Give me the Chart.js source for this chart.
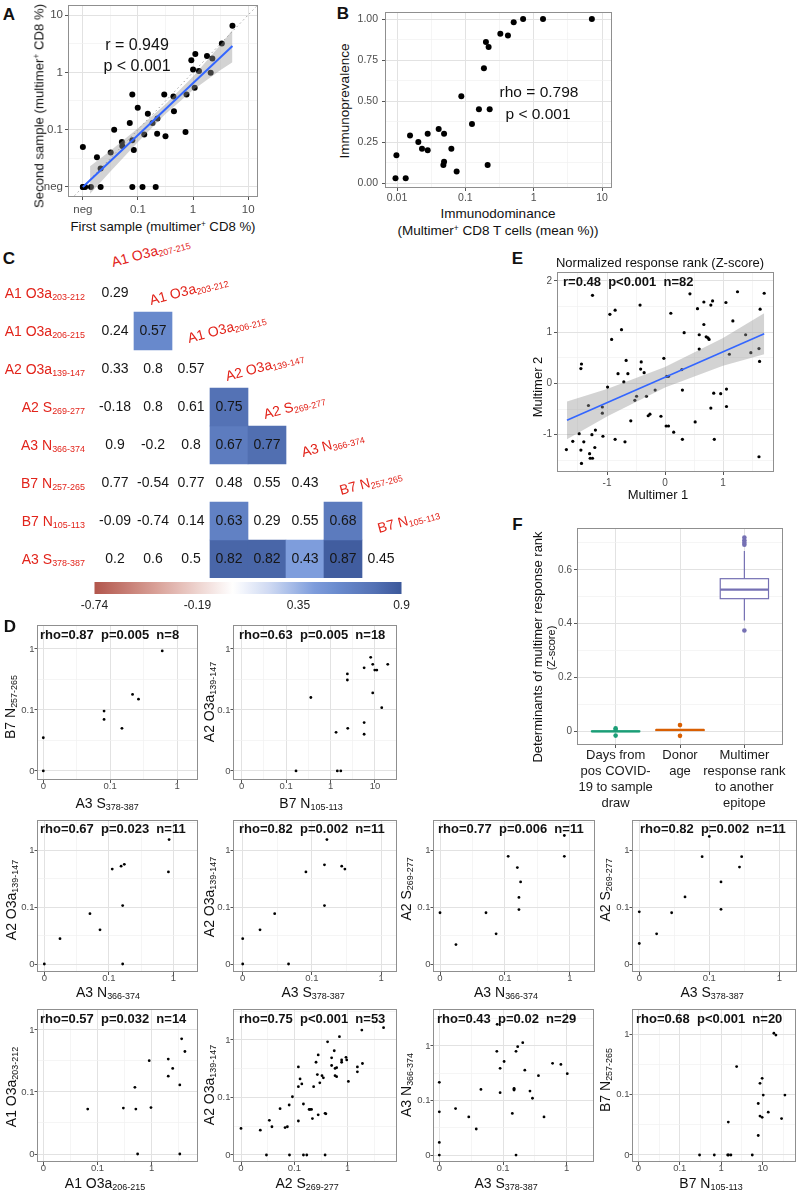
<!DOCTYPE html>
<html><head><meta charset="utf-8"><title>Multimer figure</title>
<script src="https://cdn.jsdelivr.net/npm/chart.js@4.4.1/dist/chart.umd.min.js"></script>
<style>
html,body{margin:0;padding:0;background:#fff;}
#page{position:relative;width:799px;height:1190px;overflow:hidden;font-family:'Liberation Sans',Arial,Helvetica,sans-serif;color:#111;}
.t{position:absolute;white-space:pre;line-height:1;}
.t sub{font-size:0.64em;vertical-align:-0.25em;line-height:0;}
.t sup{font-size:0.62em;vertical-align:0.5em;line-height:0;}
</style></head>
<body><div id="page"></div>
<script>
// ================= DATA =================
// Panel A (neg = 0)
const aFirst  = [0,0,0.011,0.014,0.021,0.079,0.121,0.21,0,0.018,0.021,0.032,0.037,0.051,0.052,0.071,0.079,0.079,0.084,0.099,0.13,0.151,0.184,0.226,0.223,0.30,0.316,0.44,0.45,0.73,0.76,1.07,1.0,0.93,1.1,1.28,1.79,2.24,2.09,3.33,5.19];
const aSecond = [0,0,0,0,0,0,0,0,0.050,0.033,0.021,0.040,0.1,0.061,0.052,0.131,0.41,0.065,0.044,0.24,0.082,0.19,0.131,0.156,0.085,0.41,0.077,0.38,0.21,0.091,0.41,0.54,1.12,1.63,2.08,1.05,1.92,1.75,0.98,3.19,6.5];
const aFitX = [0.01, 5.19];
const aFitY = [0.01, 2.87];
const aBandX  = [0.0135, 0.0316, 0.1, 0.316, 1, 3.16, 5.19];
const aBandLo = [0.0076, 0.0186, 0.061, 0.187, 0.49, 1.10, 1.50];
const aBandHi = [0.0229, 0.0427, 0.106, 0.277, 0.85, 3.04, 5.46];
const aDiag = [0.001, 100];
const aTickVals = [0.01, 0.1, 1, 10];
const aTickLabels = ['neg', '0.1', '1', '10'];

// Panel B
const bDominance  = [0.0095,0.0134,0.0098,0.0155,0.0205,0.0232,0.0281,0.0281,0.0407,0.0488,0.0488,0.0477,0.0624,0.0746,0.0873,0.125,0.158,0.227,0.212,0.187,0.20,0.219,0.325,0.42,0.51,0.70,1.37,7.1];
const bPrevalence = [0.03,0.03,0.17,0.29,0.25,0.21,0.20,0.30,0.33,0.30,0.13,0.11,0.21,0.07,0.53,0.36,0.45,0.45,0.11,0.70,0.86,0.83,0.91,0.90,0.98,1.0,1.0,1.0];
const bTickVals = [0.01, 0.1, 1, 10];
const bTickLabels = ['0.01', '0.1', '1', '10'];

// Panel C
const hmCols = ['A1 O3a|207-215','A1 O3a|203-212','A1 O3a|206-215','A2 O3a|139-147','A2 S|269-277','A3 N|366-374','B7 N|257-265','B7 N|105-113'];
const hmRows = ['A1 O3a|203-212','A1 O3a|206-215','A2 O3a|139-147','A2 S|269-277','A3 N|366-374','B7 N|257-265','B7 N|105-113','A3 S|378-387'];
const hmValues = [[0.29],[0.24,0.57],[0.33,0.8,0.57],[-0.18,0.8,0.61,0.75],[0.9,-0.2,0.8,0.67,0.77],[0.77,-0.54,0.77,0.48,0.55,0.43],[-0.09,-0.74,0.14,0.63,0.29,0.55,0.68],[0.2,0.6,0.5,0.82,0.82,0.43,0.87,0.45]];
const hmSig = [[0],[0,1],[0,0,0],[0,0,0,1],[0,0,0,1,1],[0,0,0,0,0,0],[0,0,0,1,0,0,1],[0,0,0,1,1,1,1,0]];
const cbTicks = [-0.74, -0.19, 0.35, 0.9];

// Panel E
const e1 = [-1.25,-0.95,-0.86,-0.92,-1.44,-1.45,-0.99,-1.32,-1.08,-1.08,-1.70,-1.59,-1.48,-1.40,-1.45,-1.44,-1.30,-1.29,-1.25,-1.26,-1.20,-1.21,-1.07,-0.86,-0.81,
  -0.75,-0.69,-0.67,-0.64,-0.71,-0.59,-0.52,-0.49,-0.43,-0.41,-0.42,-0.36,-0.32,-0.29,-0.26,-0.17,-0.07,-0.02,0.02,0.06,0.03,0.06,0.10,0.15,0.29,0.30,0.30,0.33,0.43,0.52,0.56,0.59,0.59,0.67,0.67,0.71,0.74,0.76,0.79,0.79,0.82,0.84,0.85,0.96,1.05,1.06,1.06,1.11,1.17,1.25,1.39,1.48,1.62,1.63,1.64,1.62,1.71];
const e2 = [1.72,1.35,1.43,0.86,0.38,0.29,-0.07,-0.43,-0.46,-0.58,-1.29,-1.13,-0.98,-1.14,-1.30,-1.56,-1.37,-1.46,-1.46,-1.00,-0.91,-1.25,-1.03,-1.09,0.19,
  1.05,-1.14,0.45,0.19,0.03,-0.73,-0.33,-0.25,1.53,0.42,0.28,0.21,-0.25,-0.63,-0.60,-0.13,-0.64,0.49,-0.83,-0.83,0.14,0.14,1.37,-0.95,0.27,-0.13,-1.09,0.99,1.75,-0.75,1.46,0.95,0.67,1.59,1.15,0.91,0.89,0.86,-0.48,1.53,1.61,-0.19,-1.09,-0.20,1.58,-0.11,-0.45,0.57,1.22,1.79,0.95,0.60,0.68,0.43,1.45,-1.43,1.76];
const eFitX = [-1.69, 1.71];
const eFitY = [-0.72, 0.97];
const eBandX  = [-1.69, -1, 0, 1, 1.71];
const eBandLo = [-1.09, -0.647, -0.08, 0.347, 0.57];
const eBandHi = [-0.35, -0.107, 0.32, 0.887, 1.37];

// Panel F
const fCats = [['Days from','pos COVID-','19 to sample','draw'],['Donor','age'],['Multimer','response rank','to another','epitope']];
const fMin = [-0.002, 0.002, 0.411];
const fQ1  = [-0.002, 0.002, 0.4926];
const fMed = [-0.001, 0.004, 0.526];
const fQ3  = [0.000, 0.005, 0.567];
const fMax = [0.001, 0.006, 0.670];
const fOutliers = [[0.010, 0.004, -0.017], [0.022, -0.018], [0.720, 0.710, 0.701, 0.693, 0.374]];

// Panel D (0 = zero)
const d1x = [0,0,0.081,0.081,0.15,0.216,0.265,0.60];
const d1y = [0,0.035,0.096,0.070,0.050,0.18,0.15,0.93];
const d2x = [0.167,1.42,1.70,0.36,1.33,2.44,2.39,2.39,5.7,5.7,5.7,8.0,8.9,9.9,11,8.9,14.2,19.4];
const d2y = [0,0,0,0.16,0.043,0.050,0.39,0.31,0.062,0.49,0.040,0.73,0.56,0.45,0.45,0.19,0.109,0.56];
const d3x = [0,0.0175,0.051,0.073,0.113,0.155,0.174,0.164,0.164,0.84,0.86];
const d3y = [0,0.028,0.077,0.040,0.47,0.53,0.57,0.107,0,0.42,1.56];
const d4x = [0,0,0.0178,0.029,0.046,0.082,0.152,0.152,0.27,0.30,0.165];
const d4y = [0,0.028,0.040,0.077,0,0.42,0.56,0.107,0.53,0.47,1.56];
const d5x = [0,0.0176,0.051,0.073,0.112,0.155,0.174,0.164,0.164,0.82,0.82];
const d5y = [0.080,0.022,0.080,0.034,0.79,0.50,0.28,0.149,0.091,0.79,1.84];
const d6x = [0,0,0.0177,0.029,0.045,0.079,0.147,0.147,0.27,0.29,0.1];
const d6y = [0.083,0.023,0.034,0.080,0.152,0.78,0.28,0.092,0.51,0.78,1.77];
const d7x = [0.066,0.30,0.49,0.51,0.55,0.90,0.97,2.02,2.02,2.44,3.3,3.3,3.57,4.1];
const d7y = [0.053,0.055,0.119,0.053,0,0.32,0.056,0.34,0.18,0.24,0.13,0,0.72,0.45];
const d8x = [0,0.023,0.034,0.038,0.030,0.054,0.067,0.074,0.080,0.081,0.092,0.119,0.119,0.128,0.138,0.148,0.148,0.171,0.119,0.189,0.197,0.21,0.218,0.23,0.255,0.27,0.28,0.28,0.30,0.33,0.35,0.377,0.39,0.377,0.42,0.50,0.50,0.56,0.58,0.62,0.58,0.62,0.70,0.77,0.77,0.93,0.96,1.03,1.52,1.52,1.84,1.89,4.7];
const d8y = [0.029,0.027,0.040,0.031,0,0.064,0.030,0.031,0.074,0,0.103,0.039,0.154,0.21,0.172,0.077,0,0,0.34,0.062,0.062,0.062,0.043,0.154,0.41,0.25,0.55,0.050,0.18,0.24,0.22,0.053,0.052,0,0.93,0.49,0.36,0.65,0.32,0.33,0.24,0.23,1.14,0.45,0.41,0.50,0.45,0.19,0.34,0.28,1.49,0.39,1.64];
const d9x = [0,0,0,0,0.018,0.029,0.038,0.045,0.081,0.080,0.090,0.090,0.104,0.14,0.149,0.149,0.16,0.16,0.17,0.204,0.22,0.265,0.29,0.36,0.44,0.60,0.81,1.02,0.149];
const d9y = [0.216,0.062,0.017,0,0.071,0.050,0.030,0.16,2.5,0.80,0.39,0.139,0.52,0.058,0.167,0.156,0,0.80,0.97,1.15,0.36,0.149,0.110,0.285,0.050,0.48,0.46,0.31,0.16];
const d10x = [0.30,0.68,1.43,1.71,5.6,1.48,2.35,7.8,7.8,8.6,9.7,8.6,9.7,10.3,13.6,18.6,20.8,28.5,34.3,1.5];
const d10y = [0,0,0,0,0,0.035,0.29,0.021,0.071,0.153,0.185,0.044,0.042,0.098,0.051,1.03,0.96,0.040,0.098,0];
const dTickVals = [0.01, 0.1, 1, 10];
const dTickLabels = ['0', '0.1', '1', '10'];

// ================= HELPERS =================
const page = document.getElementById('page');
const FONT = "'Liberation Sans', Arial, Helvetica, sans-serif";
Chart.defaults.font.family = FONT;
const RED = '#e2241b';
const TICK = '#4d4d4d';
const ZERO = 0.01;
const nz = v => (v > 0 ? v : ZERO);
const LOGT = [0.01, 0.0316228, 0.1, 0.316228, 1, 3.16228, 10, 31.6228];
const sub = s => { const p = s.split('|'); return p.length > 1 ? `${p[0]}<sub>${p[1]}</sub>` : p[0]; };

function T(x, y, html, o = {}) {
  const d = document.createElement('div');
  d.className = 't';
  d.innerHTML = html;
  d.style.left = x + 'px';
  d.style.top = y + 'px';
  d.style.fontSize = (o.size || 13) + 'px';
  if (o.bold) d.style.fontWeight = 'bold';
  if (o.color) d.style.color = o.color;
  const ax = o.align === 'left' ? '0%' : (o.align === 'right' ? '-100%' : '-50%');
  d.style.transform = `translate(${ax},-50%)` + (o.rot ? ` rotate(${o.rot}deg)` : '');
  page.appendChild(d);
}
function TB(x, yBase, html, size, rot, color) {
  const d = document.createElement('div');
  d.className = 't';
  d.innerHTML = html;
  const asc = 0.8465 * size;
  d.style.left = x + 'px';
  d.style.top = (yBase - asc) + 'px';
  d.style.fontSize = size + 'px';
  d.style.color = color;
  d.style.transformOrigin = `0px ${asc}px`;
  d.style.transform = `rotate(${rot}deg)`;
  page.appendChild(d);
}

function mkChart(box, pad, aw, ah, cfg) {
  const [l, t, r, b] = box;
  const L = l - pad[0], TP = t - pad[1];
  const W = (r - l) + pad[0] + pad[2], H = (b - t) + pad[1] + pad[3];
  const div = document.createElement('div');
  div.style.cssText = `position:absolute;left:${L}px;top:${TP}px;width:${W}px;height:${H}px;`;
  const cv = document.createElement('canvas');
  cv.width = W; cv.height = H; cv.style.width = W + 'px'; cv.style.height = H + 'px';
  div.appendChild(cv); page.appendChild(div);
  cfg.options = cfg.options || {};
  cfg.options.responsive = false;
  cfg.options.animation = false;
  cfg.options.devicePixelRatio = 1;
  cfg.options.events = [];
  cfg.options.layout = { padding: { left: pad[0] - aw, top: pad[1], right: pad[2], bottom: pad[3] - ah } };
  cfg.options.plugins = Object.assign({ legend: { display: false }, tooltip: { enabled: false } }, cfg.options.plugins || {});
  return new Chart(cv, cfg);
}

const frame = { id: 'frame', afterDatasetsDraw(ch) {
  const a = ch.chartArea, c = ch.ctx;
  c.save(); c.strokeStyle = '#8f8f8f'; c.lineWidth = 1;
  c.strokeRect(Math.round(a.left) + 0.5, Math.round(a.top) + 0.5, Math.round(a.right - a.left) - 1, Math.round(a.bottom - a.top) - 1);
  c.restore();
} };

function axisCfg(pos, type, min, max, all, majors, fmt, o) {
  const isMaj = c => c.tick && majors.includes(c.tick.value);
  return {
    type, position: pos, min, max,
    afterBuildTicks: s => { s.ticks = all.filter(v => v >= min && v <= max).map(v => ({ value: v })); },
    afterFit: s => { if (pos === 'bottom') s.height = o.size; else s.width = o.size; s.paddingLeft = s.paddingRight = s.paddingTop = s.paddingBottom = 0; },
    ticks: { autoSkip: false, maxRotation: 0, minRotation: 0, padding: o.pad, color: o.color || TICK,
      font: { family: FONT, size: o.font, lineHeight: o.lh || 1.2 },
      callback: v => (majors.includes(v) ? fmt(v) : '') },
    grid: { color: c => (isMaj(c) ? '#e2e2e2' : '#f0f0f0'), lineWidth: c => (isMaj(c) ? 1 : 0.7),
      drawTicks: true, tickLength: o.tl || 3, tickWidth: 1, tickColor: c => (isMaj(c) ? '#555' : 'rgba(0,0,0,0)') },
    border: { display: false }
  };
}
function ptsDS(xs, ys, r, color, order) {
  return { data: xs.map((x, i) => ({ x: x, y: ys[i] })), showLine: false, pointRadius: r, pointBackgroundColor: color,
    pointBorderColor: color, pointBorderWidth: 0, order };
}
function lineDS(xs, ys, color, width, order, dash) {
  return { data: xs.map((x, i) => ({ x: x, y: ys[i] })), showLine: true, borderColor: color, borderWidth: width,
    borderDash: dash || [], pointRadius: 0, fill: false, tension: 0, order };
}
function bandDS(xs, lo, hi, order) {
  return [
    { data: xs.map((x, i) => ({ x, y: lo[i] })), showLine: true, borderColor: 'rgba(0,0,0,0)', borderWidth: 1, pointRadius: 0, fill: false, order },
    { data: xs.map((x, i) => ({ x, y: hi[i] })), showLine: true, borderColor: 'rgba(0,0,0,0)', borderWidth: 1, pointRadius: 0, fill: '-1', backgroundColor: 'rgba(150,150,150,0.42)', order }
  ];
}
const pick = (vals, labels) => v => labels[vals.indexOf(v)];

// heat colour scale
const HEAT_STOPS = [[-0.74,[178,86,76]],[-0.4,[218,163,154]],[0,[255,255,255]],[0.2,[205,216,242]],[0.43,[126,157,220]],[0.57,[104,137,204]],[0.75,[84,114,181]],[0.9,[60,88,154]]];
function heatColor(v) {
  const s = HEAT_STOPS;
  if (v <= s[0][0]) return `rgb(${s[0][1].join(',')})`;
  for (let k = 1; k < s.length; k++) {
    if (v <= s[k][0]) {
      const t = (v - s[k - 1][0]) / (s[k][0] - s[k - 1][0]);
      const c = s[k - 1][1].map((a, n) => Math.round(a + (s[k][1][n] - a) * t));
      return `rgb(${c.join(',')})`;
    }
  }
  return `rgb(${s[s.length - 1][1].join(',')})`;
}

// ================= PANEL A =================
mkChart([68, 5, 258, 197], [28, 5, 8, 22], 26, 20, {
  type: 'line',
  data: { datasets: [
    ptsDS(aFirst.map(nz), aSecond.map(nz), 3, '#000', 3),
    ...bandDS(aBandX, aBandLo, aBandHi, 2),
    lineDS(aFitX, aFitY, '#3366FF', 2, 1),
    lineDS(aDiag, aDiag, '#a0a0a0', 1, 4, [1.5, 3])
  ] },
  options: { scales: {
    x: axisCfg('bottom', 'logarithmic', 0.00537, 15.1, LOGT, aTickVals, pick(aTickVals, aTickLabels), { size: 20, pad: 3, font: 11.5 }),
    y: axisCfg('left', 'logarithmic', 0.00668, 14.96, LOGT, aTickVals, pick(aTickVals, aTickLabels), { size: 26, pad: 2, font: 11.5 })
  } },
  plugins: [frame]
});

// ================= PANEL B =================
mkChart([385, 12, 612, 188], [30, 8, 10, 18], 28, 16, {
  type: 'line',
  data: { datasets: [ ptsDS(bDominance, bPrevalence, 3, '#000', 1) ] },
  options: { scales: {
    x: axisCfg('bottom', 'logarithmic', 0.00667, 14.0, LOGT, bTickVals, pick(bTickVals, bTickLabels), { size: 16, pad: 1, font: 10.5 }),
    y: axisCfg('left', 'linear', -0.03, 1.043, [0,0.125,0.25,0.375,0.5,0.625,0.75,0.875,1], [0,0.25,0.5,0.75,1], v => v.toFixed(2), { size: 28, pad: 4, font: 10.5 })
  } },
  plugins: [frame]
});

// ================= PANEL C =================
const heatText = { id: 'heatText', afterDatasetsDraw(chart) {
  const ctx = chart.ctx;
  ctx.save();
  ctx.font = `14px ${FONT}`; ctx.fillStyle = '#161616'; ctx.textAlign = 'center'; ctx.textBaseline = 'middle';
  hmValues.forEach((row, i) => {
    const meta = chart.getDatasetMeta(i);
    row.forEach((v, j) => { const el = meta.data[j]; ctx.fillText(String(v), el.x, (el.y + el.base) / 2 + 0.5); });
  });
  const a = chart.chartArea;
  const x0 = a.left - 1.5, x1 = a.right + 1.5, y0 = a.bottom + 4, y1 = a.bottom + 16;
  const lo = cbTicks[0], hi = cbTicks[cbTicks.length - 1];
  const g = ctx.createLinearGradient(x0, 0, x1, 0);
  for (let k = 0; k <= 60; k++) g.addColorStop(k / 60, heatColor(lo + (hi - lo) * k / 60));
  ctx.fillStyle = g; ctx.fillRect(x0, y0, x1 - x0, y1 - y0);
  ctx.fillStyle = '#222'; ctx.font = `12px ${FONT}`;
  cbTicks.forEach(v => ctx.fillText(String(v), x0 + (v - lo) / (hi - lo) * (x1 - x0), a.bottom + 28));
  ctx.restore();
} };
mkChart([96, 274, 400, 578], [24, 2, 20, 46], 0, 0, {
  type: 'bar',
  data: { labels: hmCols, datasets: hmValues.map((row, i) => ({
    data: hmCols.map((_, j) => (j < row.length ? [i + 0.5, i + 1.5] : null)),
    backgroundColor: hmCols.map((_, j) => (j < row.length && hmSig[i][j] ? heatColor(row[j]) : 'rgba(0,0,0,0)')),
    borderWidth: 0, borderSkipped: false, barPercentage: 1, categoryPercentage: 1, grouped: false
  })) },
  options: { scales: {
    x: { type: 'category', display: false, offset: true },
    y: { type: 'linear', display: false, min: 0.5, max: 8.5, reverse: true }
  } },
  plugins: [heatText]
});

// ================= PANEL E =================
mkChart([557, 271, 774, 472], [22, 3, 8, 18], 20, 16, {
  type: 'line',
  data: { datasets: [
    ptsDS(e1, e2, 1.6, '#000', 3),
    ...bandDS(eBandX, eBandLo, eBandHi, 2),
    lineDS(eFitX, eFitY, '#3366FF', 1.6, 1)
  ] },
  options: { scales: {
    x: axisCfg('bottom', 'linear', -1.862, 1.879, [-1.5,-1,-0.5,0,0.5,1,1.5], [-1,0,1], v => String(v), { size: 16, pad: 2, font: 10 }),
    y: axisCfg('left', 'linear', -1.728, 2.175, [-1.5,-1,-0.5,0,0.5,1,1.5,2], [-1,0,1,2], v => String(v), { size: 20, pad: 2, font: 10 })
  } },
  plugins: [frame]
});

// ================= PANEL F =================
const F_COLORS = ['#1B9E77', '#D95F02', '#7570B3'];
const BOX_HALF = 0.375;
const boxPlugin = { id: 'boxes', beforeDatasetsDraw(chart) {
  const xs = chart.scales.x, ys = chart.scales.y, ctx = chart.ctx;
  ctx.save();
  fMed.forEach((m, i) => {
    const cx = xs.getPixelForValue(i + 1), hw = xs.getPixelForValue(i + 1 + BOX_HALF) - cx;
    const yq1 = ys.getPixelForValue(fQ1[i]), yq3 = ys.getPixelForValue(fQ3[i]), ym = ys.getPixelForValue(m);
    const ylo = ys.getPixelForValue(fMin[i]), yhi = ys.getPixelForValue(fMax[i]);
    ctx.strokeStyle = F_COLORS[i]; ctx.lineWidth = 1.2;
    ctx.beginPath(); ctx.moveTo(cx, yq3); ctx.lineTo(cx, yhi); ctx.moveTo(cx, yq1); ctx.lineTo(cx, ylo); ctx.stroke();
    ctx.fillStyle = '#fff'; ctx.fillRect(cx - hw, yq3, 2 * hw, yq1 - yq3);
    ctx.strokeRect(cx - hw, yq3, 2 * hw, yq1 - yq3);
    ctx.lineWidth = 2.2;
    ctx.beginPath(); ctx.moveTo(cx - hw, ym); ctx.lineTo(cx + hw, ym); ctx.stroke();
  });
  ctx.restore();
} };
mkChart([577, 527, 783, 745], [22, 3, 8, 70], 20, 68, {
  type: 'line',
  data: { datasets: fOutliers.map((vals, i) => ({ data: vals.map(v => ({ x: i + 1, y: v })), showLine: false,
    pointRadius: 2.3, pointBackgroundColor: F_COLORS[i], pointBorderColor: F_COLORS[i], pointBorderWidth: 0 })) },
  options: { scales: {
    x: axisCfg('bottom', 'linear', 0.4, 3.6, [1, 2, 3], [1, 2, 3], v => fCats[v - 1], { size: 68, pad: -1, font: 13, lh: 1.25, color: '#1a1a1a' }),
    y: axisCfg('left', 'linear', -0.052, 0.7556, [0,0.1,0.2,0.3,0.4,0.5,0.6,0.7], [0,0.2,0.4,0.6], v => String(v), { size: 20, pad: 2, font: 10 })
  } },
  plugins: [boxPlugin, frame]
});

// ================= PANEL D =================
const dX = [d1x, d2x, d3x, d4x, d5x, d6x, d7x, d8x, d9x, d10x];
const dY = [d1y, d2y, d3y, d4y, d5y, d6y, d7y, d8y, d9y, d10y];
const dPanels = [
  { box: [37, 625, 198, 780],  xr: [0.00805, 2.056], yr: [0.00711, 2.47], xl: 'A3 S|378-387',   yl: 'B7 N|257-265',   xc: [107, 803],  yc: [10, 707],   st: [40, 634],   stat: 'rho=0.87  p=0.005  n=8' },
  { box: [233, 625, 397, 780], xr: [0.00637, 31.3],  yr: [0.00711, 2.47], xl: 'B7 N|105-113',   yl: 'A2 O3a|139-147', xc: [311, 803],  yc: [209, 702],  st: [239, 634],  stat: 'rho=0.63  p=0.005  n=18' },
  { box: [37, 820, 198, 972],  xr: [0.0077, 2.415],  yr: [0.00723, 3.45], xl: 'A3 N|366-374',   yl: 'A2 O3a|139-147', xc: [108, 992],  yc: [11, 900],   st: [40, 828],   stat: 'rho=0.67  p=0.023  n=11' },
  { box: [233, 820, 397, 972], xr: [0.00724, 1.70],  yr: [0.00723, 3.45], xl: 'A3 S|378-387',   yl: 'A2 O3a|139-147', xc: [313, 992],  yc: [209, 897],  st: [239, 828],  stat: 'rho=0.82  p=0.002  n=11' },
  { box: [433, 820, 595, 972], xr: [0.0078, 2.43],   yr: [0.00723, 3.45], xl: 'A3 N|366-374',   yl: 'A2 S|269-277',   xc: [506, 992],  yc: [406, 889],  st: [438, 828],  stat: 'rho=0.77  p=0.006  n=11' },
  { box: [632, 820, 797, 972], xr: [0.00787, 1.79],  yr: [0.00723, 3.45], xl: 'A3 S|378-387',   yl: 'A2 S|269-277',   xc: [712, 992],  yc: [605, 890],  st: [640, 828],  stat: 'rho=0.82  p=0.002  n=11' },
  { box: [37, 1009, 198, 1162],  xr: [0.00765, 7.15], yr: [0.00743, 2.18], xl: 'A1 O3a|206-215', yl: 'A1 O3a|203-212', xc: [105, 1183], yc: [11, 1087],  st: [40, 1018],  stat: 'rho=0.57  p=0.032  n=14' },
  { box: [233, 1009, 397, 1162], xr: [0.00708, 8.4],  yr: [0.00755, 3.46], xl: 'A2 S|269-277',   yl: 'A2 O3a|139-147', xc: [307, 1183], yc: [209, 1085], st: [239, 1018], stat: 'rho=0.75  p<0.001  n=53' },
  { box: [433, 1009, 594, 1162], xr: [0.00796, 2.68], yr: [0.00745, 4.77], xl: 'A3 S|378-387',   yl: 'A3 N|366-374',   xc: [506, 1183], yc: [406, 1085], st: [437, 1018], stat: 'rho=0.43  p=0.02  n=29' },
  { box: [632, 1009, 796, 1162], xr: [0.00705, 63.5], yr: [0.00766, 2.59], xl: 'B7 N|105-113',   yl: 'B7 N|257-265',   xc: [711, 1183], yc: [605, 1080], st: [636, 1018], stat: 'rho=0.68  p<0.001  n=20' }
];
dPanels.forEach((p, k) => {
  mkChart(p.box, [26, 4, 4, 16], 24, 14, {
    type: 'line',
    data: { datasets: [ ptsDS(dX[k].map(nz), dY[k].map(nz), 1.4, '#000', 1) ] },
    options: { scales: {
      x: axisCfg('bottom', 'logarithmic', p.xr[0], p.xr[1], LOGT, dTickVals, pick(dTickVals, dTickLabels), { size: 14, pad: -2, font: 9.5 }),
      y: axisCfg('left', 'logarithmic', p.yr[0], p.yr[1], LOGT, dTickVals, pick(dTickVals, dTickLabels), { size: 24, pad: 0, font: 9.5, tl: 2.5 })
    } },
    plugins: [frame]
  });
});

// ================= TEXT =================
// Panel letters
T(9, 14, 'A', { size: 17, bold: true });
T(343, 13, 'B', { size: 17, bold: true });
T(9, 258, 'C', { size: 17, bold: true });
T(10, 626, 'D', { size: 17, bold: true });
T(517.5, 257.5, 'E', { size: 17, bold: true });
T(517.5, 523.5, 'F', { size: 17, bold: true });

// A
T(137, 45, 'r = 0.949', { size: 16 });
T(137, 66, 'p &lt; 0.001', { size: 16 });
T(39, 106, 'Second sample (multimer<sup>+</sup> CD8 %)', { size: 13.2, rot: -90 });
T(163, 227, 'First sample (multimer<sup>+</sup> CD8 %)', { size: 13.2 });

// B
T(539, 92, 'rho = 0.798', { size: 15.5 });
T(538, 114, 'p &lt; 0.001', { size: 15.5 });
T(345, 101, 'Immunoprevalence', { size: 13.5, rot: -90 });
T(498, 214, 'Immunodominance', { size: 13.5 });
T(498, 231, '(Multimer<sup>+</sup> CD8 T cells (mean %))', { size: 13.5 });

// C labels
hmRows.forEach((r, i) => T(85, 274 + 38 * (i + 0.5), sub(r), { size: 14, color: RED, align: 'right' }));
hmCols.forEach((c, j) => TB(96 + 38 * j + 17, 274 + 38 * j - 7, sub(c), 14, -15, RED));

// E
T(660, 262, 'Normalized response rank (Z-score)', { size: 13 });
T(563, 281, 'r=0.48  p&lt;0.001  n=82', { size: 13, bold: true, align: 'left' });
T(658, 494, 'Multimer 1', { size: 13 });
T(537, 387, 'Multimer 2', { size: 13, rot: -90 });

// F
T(537, 647, 'Determinants of multimer response rank', { size: 13, rot: -90 });
T(551, 648, '(Z-score)', { size: 11, rot: -90 });

// D
dPanels.forEach(p => {
  T(p.st[0], p.st[1], p.stat.replace('<', '&lt;'), { size: 13, bold: true, align: 'left' });
  T(p.xc[0], p.xc[1], sub(p.xl), { size: 14 });
  T(p.yc[0], p.yc[1], sub(p.yl), { size: 14, rot: -90 });
});
</script>
</body></html>
